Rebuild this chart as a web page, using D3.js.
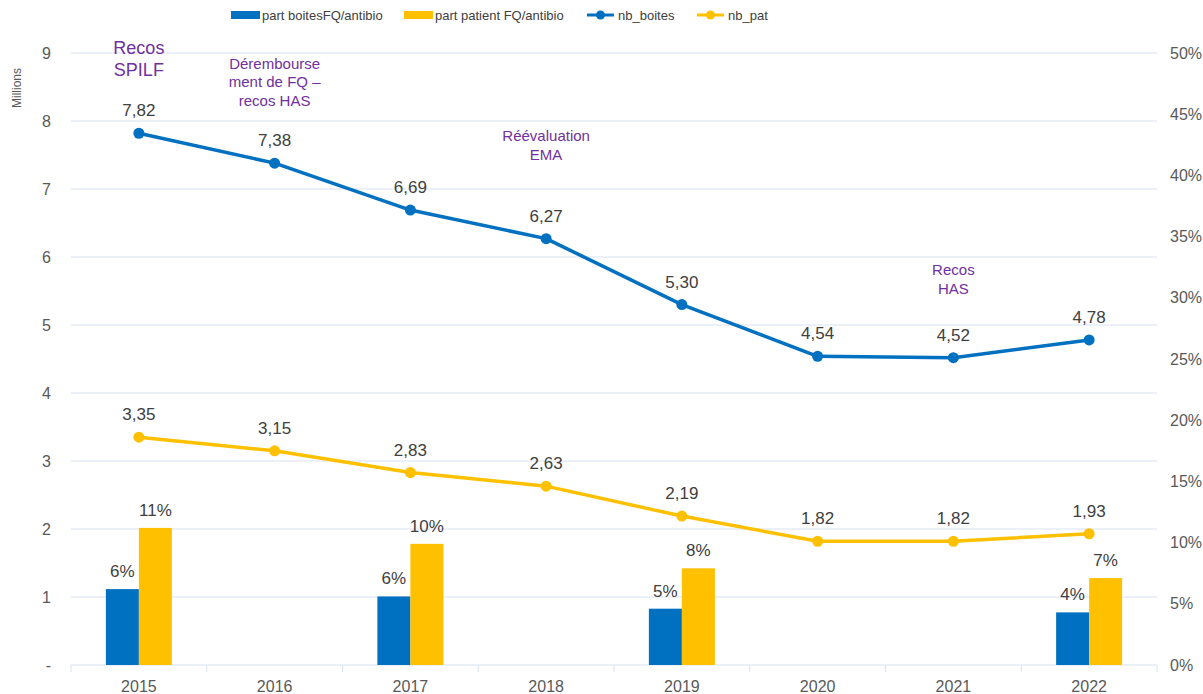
<!DOCTYPE html>
<html>
<head>
<meta charset="utf-8">
<script src="https://cdn.jsdelivr.net/npm/d3@7"></script>
<style>
  body { margin: 0; background: #fff; }
  svg { font-family: "Liberation Sans", Arial, sans-serif; }
</style>
</head>
<body>
<svg width="1203" height="694"></svg>
<script>
var years = ["2015", "2016", "2017", "2018", "2019", "2020", "2021", "2022"];
var nbBoites = [7.82, 7.38, 6.69, 6.27, 5.30, 4.54, 4.52, 4.78];
var nbPat = [3.35, 3.15, 2.83, 2.63, 2.19, 1.82, 1.82, 1.93];
var partBoites = [6.2, null, 5.6, null, 4.6, null, null, 4.3];
var partPatient = [11.2, null, 9.9, null, 7.9, null, null, 7.1];
var leftTicks = [0, 1, 2, 3, 4, 5, 6, 7, 8, 9];
var rightTicks = [0, 5, 10, 15, 20, 25, 30, 35, 40, 45, 50];
var notes = [
    { year: "2015", y: 8.98, lines: ["Recos", "SPILF"], big: true },
    { year: "2016", y: 8.77, lines: ["Dérembourse", "ment de FQ –", "recos HAS"] },
    { year: "2018", y: 7.7, lines: ["Réévaluation", "EMA"] },
    { year: "2021", y: 5.73, lines: ["Recos", "HAS"] }
];

var svg = d3.select("svg"),
    margin = { left: 71, right: 46, top: 53, bottom: 29 },
    width = +svg.attr("width"),
    height = +svg.attr("height");

var blue = "#0070C0", yellow = "#FFC000", purple = "#7030A0", grid = "#D9E1F2";

var x = d3.scaleBand()
    .domain(years)
    .range([margin.left, width - margin.right]);

var y = d3.scaleLinear()
    .domain([0, 9])
    .range([height - margin.bottom, margin.top]);

var y2 = d3.scaleLinear()
    .domain([0, 50])
    .range([height - margin.bottom, margin.top]);

// gridlines
svg.append("g")
    .selectAll("line")
    .data(leftTicks.slice(1))
    .enter().append("line")
    .attr("x1", margin.left)
    .attr("x2", width - margin.right)
    .attr("y1", function (d) { return y(d); })
    .attr("y2", function (d) { return y(d); })
    .attr("stroke", grid)
    .attr("stroke-width", 1);

// left axis
var yAxis = d3.axisLeft(y)
    .tickValues(leftTicks)
    .tickSize(0)
    .tickPadding(20)
    .tickFormat(function (d) { return d === 0 ? "-" : d; });
var gy = svg.append("g")
    .attr("transform", "translate(" + margin.left + ",0)")
    .call(yAxis);
gy.select(".domain").remove();
gy.selectAll("text").attr("font-size", "16px").attr("fill", "#595959");

svg.append("text")
    .attr("transform", "translate(21," + 88 + ") rotate(-90)")
    .attr("text-anchor", "middle")
    .attr("font-size", "12px")
    .attr("fill", "#595959")
    .text("Millions");

// right axis
var yAxis2 = d3.axisRight(y2)
    .tickValues(rightTicks)
    .tickSize(0)
    .tickPadding(13)
    .tickFormat(function (d) { return d + "%"; });
var gy2 = svg.append("g")
    .attr("transform", "translate(" + (width - margin.right) + ",0)")
    .call(yAxis2);
gy2.select(".domain").remove();
gy2.selectAll("text").attr("font-size", "16px").attr("fill", "#595959");

// category axis
var base = height - margin.bottom;
svg.append("line")
    .attr("x1", margin.left).attr("x2", width - margin.right)
    .attr("y1", base).attr("y2", base)
    .attr("stroke", grid).attr("stroke-width", 1);
var bounds = years.map(function (d) { return x(d); }).concat([x.range()[1]]);
svg.append("g").selectAll("line")
    .data(bounds)
    .enter().append("line")
    .attr("x1", function (d) { return d; })
    .attr("x2", function (d) { return d; })
    .attr("y1", base).attr("y2", base + 7)
    .attr("stroke", grid);
svg.append("g").selectAll("text")
    .data(years)
    .enter().append("text")
    .attr("x", function (d) { return x(d) + x.bandwidth() / 2; })
    .attr("y", base + 27)
    .attr("text-anchor", "middle")
    .attr("font-size", "16px")
    .attr("fill", "#595959")
    .text(function (d) { return d; });

// bars
var bw = 33;
function drawBars(vals, color, offset) {
    var data = years.map(function (d, i) { return { year: d, v: vals[i] }; })
        .filter(function (d) { return d.v != null; });
    svg.append("g").selectAll("rect")
        .data(data)
        .enter().append("rect")
        .attr("x", function (d) { return x(d.year) + x.bandwidth() / 2 + offset; })
        .attr("y", function (d) { return y2(d.v); })
        .attr("width", bw)
        .attr("height", function (d) { return y2(0) - y2(d.v); })
        .attr("fill", color);
    svg.append("g").selectAll("text")
        .data(data)
        .enter().append("text")
        .attr("x", function (d) { return x(d.year) + x.bandwidth() / 2 + offset + bw / 2; })
        .attr("y", function (d) { return y2(d.v) - 12; })
        .attr("text-anchor", "middle")
        .attr("font-size", "17px")
        .attr("fill", "#404040")
        .text(function (d) { return Math.round(d.v) + "%"; });
}
drawBars(partBoites, blue, -bw);
drawBars(partPatient, yellow, 0);

// lines
var fmt = function (v) { return v.toFixed(2).replace(".", ","); };
function drawLine(vals, color) {
    var data = years.map(function (d, i) { return { year: d, v: vals[i] }; });
    var line = d3.line()
        .x(function (d) { return x(d.year) + x.bandwidth() / 2; })
        .y(function (d) { return y(d.v); });
    svg.append("path")
        .datum(data)
        .attr("d", line)
        .attr("fill", "none")
        .attr("stroke", color)
        .attr("stroke-width", 3.5)
        .attr("stroke-linejoin", "round");
    svg.append("g").selectAll("circle")
        .data(data)
        .enter().append("circle")
        .attr("cx", function (d) { return x(d.year) + x.bandwidth() / 2; })
        .attr("cy", function (d) { return y(d.v); })
        .attr("r", 5.5)
        .attr("fill", color);
    svg.append("g").selectAll("text")
        .data(data)
        .enter().append("text")
        .attr("x", function (d) { return x(d.year) + x.bandwidth() / 2; })
        .attr("y", function (d) { return y(d.v) - 17; })
        .attr("text-anchor", "middle")
        .attr("font-size", "17px")
        .attr("fill", "#404040")
        .text(function (d) { return fmt(d.v); });
}
drawLine(nbBoites, blue);
drawLine(nbPat, yellow);

// annotations
notes.forEach(function (n) {
    var t = svg.append("text")
        .attr("x", x(n.year) + x.bandwidth() / 2)
        .attr("y", y(n.y))
        .attr("text-anchor", "middle")
        .attr("font-size", n.big ? "18px" : "15px")
        .attr("fill", purple);
    n.lines.forEach(function (l, i) {
        t.append("tspan")
            .attr("x", x(n.year) + x.bandwidth() / 2)
            .attr("dy", i === 0 ? 0 : (n.big ? "1.2em" : "1.25em"))
            .text(l);
    });
});

// legend
var legendItems = [
    { name: "part boitesFQ/antibio", color: blue, type: "bar", x: 231 },
    { name: "part patient FQ/antibio", color: yellow, type: "bar", x: 404 },
    { name: "nb_boites", color: blue, type: "line", x: 587 },
    { name: "nb_pat", color: yellow, type: "line", x: 697 }
];
var lg = svg.append("g").attr("class", "legend");
legendItems.forEach(function (d) {
    if (d.type === "bar") {
        lg.append("rect")
            .attr("x", d.x).attr("y", 11)
            .attr("width", 29).attr("height", 8)
            .attr("fill", d.color);
    } else {
        lg.append("line")
            .attr("x1", d.x).attr("x2", d.x + 27)
            .attr("y1", 15).attr("y2", 15)
            .attr("stroke", d.color).attr("stroke-width", 3);
        lg.append("circle")
            .attr("cx", d.x + 13.5).attr("cy", 15).attr("r", 4.5)
            .attr("fill", d.color);
    }
    lg.append("text")
        .attr("x", d.x + 31)
        .attr("y", 20)
        .attr("font-size", "13px")
        .attr("fill", "#404040")
        .text(d.name);
});
</script>
</body>
</html>
